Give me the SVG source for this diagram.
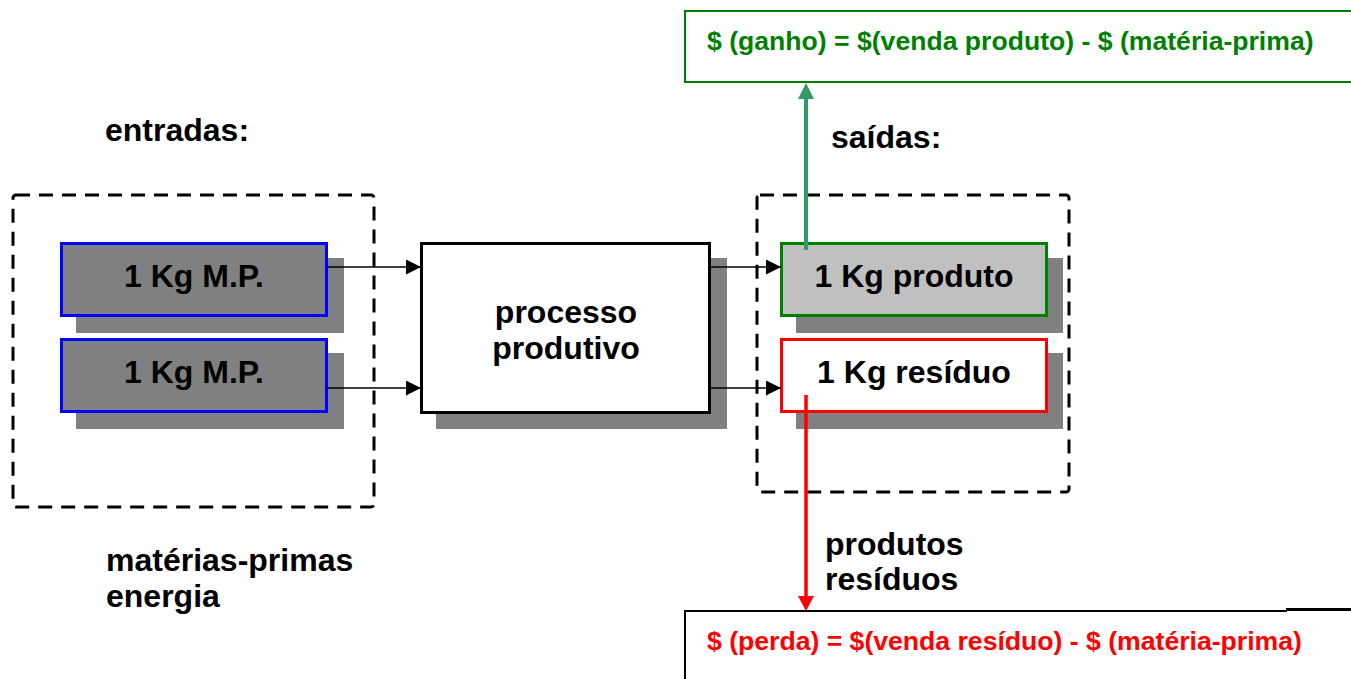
<svg xmlns="http://www.w3.org/2000/svg" width="1351" height="679" viewBox="0 0 1351 679">
<style>
text{font-family:"Liberation Sans",Arial,sans-serif;font-weight:bold;fill:#000}
.big{font-size:32px}
.eq{font-size:26.6px}
.shadow{fill:#808080}
.dash{fill:none;stroke:#000;stroke-width:3;stroke-dasharray:14 9}
.conn{stroke:#000;stroke-width:1.5;fill:none}
</style>
<defs>
<marker id="ah" markerWidth="15" markerHeight="15" refX="15" refY="7.5" orient="auto" markerUnits="userSpaceOnUse"><path d="M0,0 L15,7.5 L0,15 Z" fill="#000"/></marker>
</defs>
<rect width="1351" height="679" fill="#fff"/>
<g id="labels">
<text class="big" x="105" y="141">entradas:</text>
<text class="big" x="831" y="148">saídas:</text>
<text class="big" x="106" y="571">matérias-primas</text>
<text class="big" x="106" y="607">energia</text>
<text class="big" x="825" y="555">produtos</text>
<text class="big" x="825" y="590">resíduos</text>
</g>
<g id="inputs-group"><rect class="dash" x="13" y="195" width="361" height="312" rx="3"/></g>
<g id="outputs-group"><rect class="dash" x="757" y="195" width="312" height="297" rx="3"/></g>
<g id="mp1">
<rect class="shadow" x="76" y="258" width="268" height="75"/>
<rect x="61.5" y="243.5" width="265" height="72" fill="#808080" stroke="#0000ff" stroke-width="3"/>
<text class="big" x="194" y="287" text-anchor="middle">1 Kg M.P.</text>
</g>
<g id="mp2">
<rect class="shadow" x="76" y="353" width="268" height="76"/>
<rect x="61.5" y="339.5" width="265" height="72" fill="#808080" stroke="#0000ff" stroke-width="3"/>
<text class="big" x="194" y="383" text-anchor="middle">1 Kg M.P.</text>
</g>
<g id="processo">
<rect class="shadow" x="436" y="258" width="291" height="171"/>
<rect x="421.5" y="243.5" width="288" height="169" fill="#fff" stroke="#000" stroke-width="3"/>
<text class="big" x="566" y="323" text-anchor="middle">processo</text>
<text class="big" x="566" y="359" text-anchor="middle">produtivo</text>
</g>
<g id="produto">
<rect class="shadow" x="796" y="258" width="267" height="75"/>
<rect x="781.5" y="243.5" width="265" height="72" fill="#c0c0c0" stroke="#008000" stroke-width="3"/>
<text class="big" x="914" y="287" text-anchor="middle">1 Kg produto</text>
</g>
<g id="residuo">
<rect class="shadow" x="796" y="353" width="267" height="76"/>
<rect x="781.5" y="339.5" width="265" height="72" fill="#fff" stroke="#ff0000" stroke-width="3"/>
<text class="big" x="914" y="383" text-anchor="middle">1 Kg resíduo</text>
</g>
<g id="ganho">
<rect x="685" y="11" width="680" height="71" fill="#fff" stroke="#008000" stroke-width="2"/>
<text class="eq" x="707" y="50" style="fill:#008000">$ (ganho) = $(venda produto) - $ (matéria-prima)</text>
</g>
<g id="perda">
<path d="M685,679 L685,611 L1287,611" fill="none" stroke="#000" stroke-width="2"/>
<path d="M1286,609.5 L1351,609.5" fill="none" stroke="#000" stroke-width="3"/>
<text class="eq" x="707" y="650" style="fill:#ff0000">$ (perda) = $(venda resíduo) - $ (matéria-prima)</text>
</g>
<g id="connectors">
<line class="conn" x1="327" y1="267" x2="421" y2="267" marker-end="url(#ah)"/>
<line class="conn" x1="327" y1="388" x2="421" y2="388" marker-end="url(#ah)"/>
<line class="conn" x1="710" y1="267" x2="781" y2="267" marker-end="url(#ah)"/>
<line class="conn" x1="710" y1="388" x2="781" y2="388" marker-end="url(#ah)"/>
<line x1="806" y1="250" x2="806" y2="96" stroke="#339966" stroke-width="4"/>
<path d="M806,83 L814,99 L798,99 Z" fill="#339966"/>
<line x1="806" y1="395" x2="806" y2="598" stroke="#ff0000" stroke-width="3.5"/>
<path d="M806,611 L814,596 L798,596 Z" fill="#ff0000"/>
</g>
</svg>
